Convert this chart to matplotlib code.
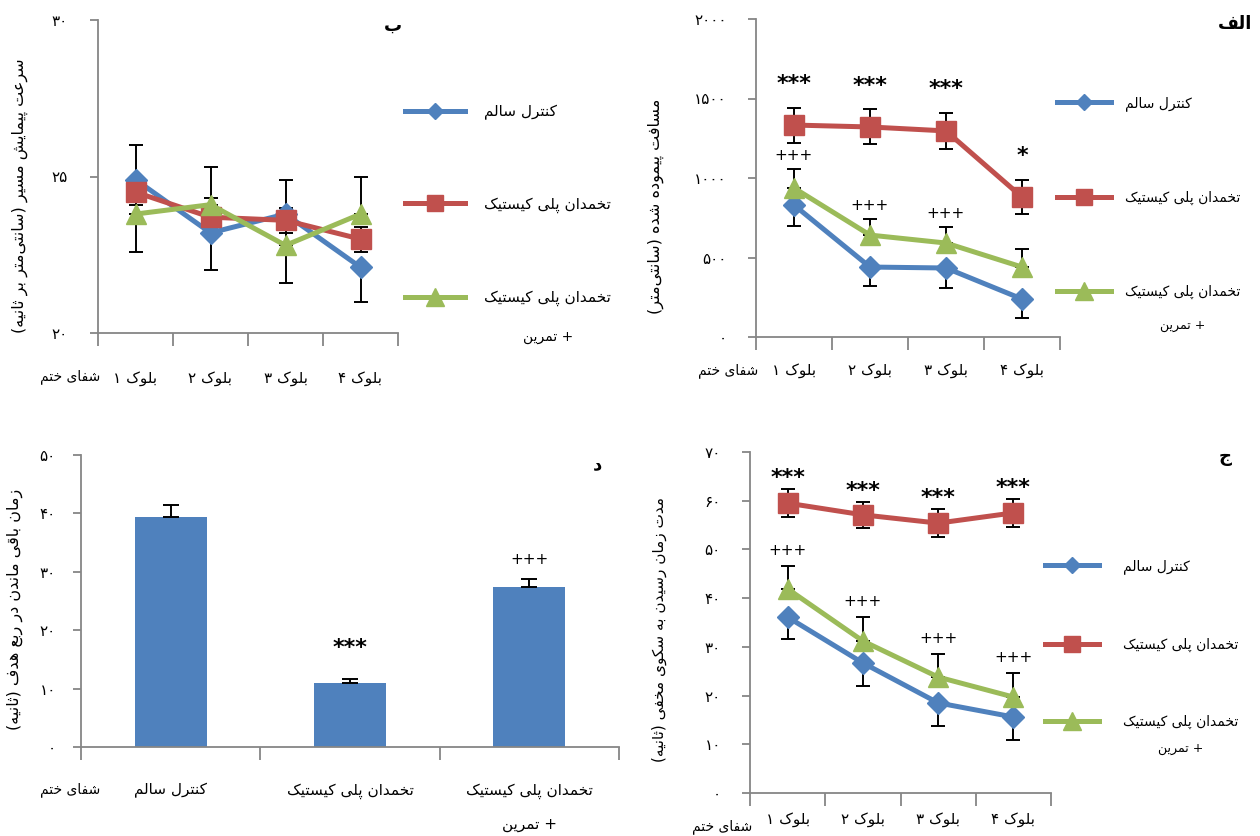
import matplotlib
matplotlib.use('Agg')
import matplotlib.pyplot as plt
from matplotlib.lines import Line2D

plt.rcParams['font.family'] = ['DejaVu Sans']

# --- data ---
group_names = ['کنترل سالم', 'تخمدان پلی کیستیک', 'تخمدان پلی کیستیک']
exercise_note = '+ تمرین'
block_labels = ['بلوک ۱', 'بلوک ۲', 'بلوک ۳', 'بلوک ۴']
blocks = [1, 2, 3, 4]

# panel ب : swim speed
speed_ylabel = 'سرعت پیمایش مسیر (سانتی\u200cمتر بر ثانیه)'
speed_ticks = [20, 25, 30]
speed_ctrl = [24.9, 23.2, 23.8, 22.1]
speed_ctrl_err = [2.3, 1.2, 2.2, 1.1]
speed_pcos = [24.5, 23.7, 23.6, 23.0]
speed_pcos_err = [0.4, 0.6, 0.4, 0.4]
speed_ex = [23.8, 24.1, 22.8, 23.8]
speed_ex_err = [2.2, 1.2, 2.1, 1.2]

# panel الف : distance travelled
dist_ylabel = 'مسافت پیموده شده (سانتی\u200cمتر)'
dist_ticks = [0, 500, 1000, 1500, 2000]
dist_ctrl = [830, 440, 434, 239]
dist_ctrl_err = [132, 119, 126, 120]
dist_pcos = [1333, 1321, 1296, 880]
dist_pcos_err = [110, 110, 113, 107]
dist_ex = [937, 641, 591, 440]
dist_ex_err = [119, 101, 101, 113]
dist_stars = ['***', '***', '***', '*']
dist_plus = ['+++', '+++', '+++', '']

# panel ج : escape latency
lat_ylabel = 'مدت زمان رسیدن به سکوی مخفی (ثانیه)'
lat_ticks = [0, 10, 20, 30, 40, 50, 60, 70]
lat_ctrl = [36.1, 26.7, 18.5, 15.6]
lat_ctrl_err = [4.5, 4.7, 4.7, 4.7]
lat_pcos = [59.5, 57.1, 55.4, 57.5]
lat_pcos_err = [2.9, 2.7, 2.9, 2.9]
lat_ex = [41.9, 31.2, 23.8, 19.7]
lat_ex_err = [4.7, 4.9, 4.7, 4.9]
lat_stars = ['***', '***', '***', '***']
lat_plus = ['+++', '+++', '+++', '+++']

# panel د : time in target quadrant
quad_ylabel = 'زمان باقی ماندن در ربع هدف (ثانیه)'
quad_ticks = [0, 10, 20, 30, 40, 50]
quad_time = [39.4, 11.0, 27.4]
quad_err = [2.0, 0.7, 1.4]
quad_marks = ['', '***', '+++']

watermark = 'شفای ختم'

BLUE = '#4F81BD'
RED = '#C0504D'
GREEN = '#9BBB59'
GRAY = '#868686'

# --- minimal persian shaping (matplotlib has no text shaping) ---
DUAL = {'ب': 0xFE8F, 'ت': 0xFE95, 'ث': 0xFE99, 'ج': 0xFE9D, 'ح': 0xFEA1,
        'خ': 0xFEA5, 'س': 0xFEB1, 'ش': 0xFEB5, 'ط': 0xFEC1, 'ع': 0xFEC9,
        'ف': 0xFED1, 'ق': 0xFED5, 'ل': 0xFEDD, 'م': 0xFEE1, 'ن': 0xFEE5,
        'ه': 0xFEE9, 'پ': 0xFB56, 'ک': 0xFB8E, 'ی': 0xFBFC}
RIGHT = {'ا': 0xFE8D, 'د': 0xFEA9, 'ذ': 0xFEAB, 'ر': 0xFEAD, 'ز': 0xFEAF, 'و': 0xFEED}


def shape_line(text):
    out = []
    for i, ch in enumerate(text):
        prev = text[i - 1] if i > 0 else ''
        nxt = text[i + 1] if i + 1 < len(text) else ''
        if ch in RIGHT:
            out.append(chr(RIGHT[ch] + (1 if prev in DUAL else 0)))
        elif ch in DUAL:
            jp = prev in DUAL
            jn = nxt in DUAL or nxt in RIGHT
            k = (3 if jn else 1) if jp else (2 if jn else 0)
            out.append(chr(DUAL[ch] + k))
        elif ch != '\u200c':
            out.append(ch)
    runs = []
    for ch in out:
        if ch.isdigit() and runs and runs[-1][0].isdigit():
            runs[-1] += ch
        else:
            runs.append(ch)
    mirror = {'(': ')', ')': '('}
    return ''.join(mirror.get(r, r) for r in reversed(runs))


def fa(text):
    return '\n'.join(shape_line(t) for t in text.split('\n'))


def fa_num(v):
    return str(v).translate(str.maketrans('0123456789', '۰۱۲۳۴۵۶۷۸۹'))


W, H = 1260, 836
fig = plt.figure(figsize=(W / 100, H / 100), dpi=100)


def axes_px(left, top, right, bottom):
    return fig.add_axes([left / W, 1 - bottom / H, (right - left) / W, (bottom - top) / H])


def style_axes(ax, xlabels, yticks, ypad, xpad):
    n = len(xlabels)
    for s in ['top', 'right']:
        ax.spines[s].set_visible(False)
    for s in ['left', 'bottom']:
        ax.spines[s].set_color(GRAY)
        ax.spines[s].set_linewidth(1.3)
    ax.set_xlim(0.5, n + 0.5)
    ax.set_ylim(yticks[0], yticks[-1])
    ax.set_yticks(yticks)
    ax.set_yticklabels([fa_num(t) for t in yticks])
    ax.set_xticks(range(1, n + 1))
    ax.set_xticklabels([fa(l) for l in xlabels])
    ax.set_xticks([i + 0.5 for i in range(n + 1)], minor=True)
    ax.tick_params(axis='x', which='major', length=0, pad=xpad, labelsize=11)
    ax.tick_params(axis='x', which='minor', length=9, width=1.3, color=GRAY)
    ax.tick_params(axis='y', length=6, width=1.3, color=GRAY, pad=ypad, labelsize=11)


def draw_series(ax, y, lo, hi, color, marker, ms):
    ax.errorbar(blocks, y, yerr=[lo, hi], fmt='none', ecolor='black',
                elinewidth=1.4, capsize=5, capthick=1.4, zorder=2)
    ax.plot(blocks, y, color=color, lw=3.6, marker=marker, ms=ms, zorder=3)


def add_legend(ax, x, y, spacing, size, textpad, note_gap):
    handles = [Line2D([], [], color=BLUE, lw=3.6, marker='D', ms=8),
               Line2D([], [], color=RED, lw=3.6, marker='s', ms=12),
               Line2D([], [], color=GREEN, lw=3.6, marker='^', ms=13)]
    leg = ax.legend(handles, [fa(g) for g in group_names], loc='upper left',
                    bbox_to_anchor=(x / W, 1 - y / H), bbox_transform=fig.transFigure,
                    frameon=False, fontsize=size, handlelength=3.9, handletextpad=textpad,
                    labelspacing=spacing, borderpad=0, borderaxespad=0)
    # drawn after the legend so the text position is already known
    ax.annotate(fa(exercise_note), xy=(0.5, 0), xycoords=leg.get_texts()[2],
                xytext=(0, -note_gap), textcoords='offset points', ha='center', va='top',
                fontsize=size - 1, zorder=10)


def zeros(n):
    return [0] * n


# ---------- panel ب ----------
ax = axes_px(98, 20, 398, 333)
style_axes(ax, block_labels, speed_ticks, 16, 27)
draw_series(ax, speed_ctrl, speed_ctrl_err, zeros(4), BLUE, 'D', 11)
draw_series(ax, speed_pcos, speed_pcos_err, speed_pcos_err, RED, 's', 15)
draw_series(ax, speed_ex, zeros(4), speed_ex_err, GREEN, '^', 15)
ax.set_ylabel(fa(speed_ylabel), fontsize=11.5, va='center')
ax.yaxis.set_label_coords(-0.26, 0.44)
add_legend(ax, 405, 104, 5.05, 11, 1.3, 17)

# ---------- panel الف ----------
ax = axes_px(756, 19, 1060, 337)
style_axes(ax, block_labels, dist_ticks, 15, 19)
draw_series(ax, dist_ctrl, dist_ctrl_err, zeros(4), BLUE, 'D', 11)
draw_series(ax, dist_pcos, dist_pcos_err, dist_pcos_err, RED, 's', 15)
draw_series(ax, dist_ex, zeros(4), dist_ex_err, GREEN, '^', 15)
for x, y, e, s in zip(blocks, dist_pcos, dist_pcos_err, dist_stars):
    ax.annotate(s, xy=(x, y + e), xytext=(0, 17), textcoords='offset points',
                ha='center', va='center', fontsize=16, fontweight='bold')
for x, y, e, s in zip(blocks, dist_ex, dist_ex_err, dist_plus):
    ax.annotate(s, xy=(x, y + e), xytext=(0, 10), textcoords='offset points',
                ha='center', va='center', fontsize=11)
ax.set_ylabel(fa(dist_ylabel), fontsize=11.5, va='center')
ax.yaxis.set_label_coords(-0.33, 0.41)
add_legend(ax, 1057, 96, 5.77, 10, 1.0, 14)

# ---------- panel د ----------
ax = axes_px(81, 455, 619, 747)
cats = [1, 2, 3]
quad_labels = group_names[:2] + [group_names[2] + '\n' + exercise_note]
style_axes(ax, quad_labels, quad_ticks, 12, 26)
ax.get_xticklabels()[2].set_linespacing(2.5)
ax.bar(cats, quad_time, width=0.4, color=BLUE, zorder=2)
ax.errorbar(cats, quad_time, yerr=[zeros(3), quad_err], fmt='none', ecolor='black',
            elinewidth=1.4, capsize=6, capthick=1.4, zorder=3)
for x, y, e, s in zip(cats, quad_time, quad_err, quad_marks):
    star = s == '***'
    ax.annotate(s, xy=(x, y + e), xytext=(0, 22 if star else 14),
                textcoords='offset points', ha='center', va='center',
                fontsize=16 if star else 11, fontweight='bold' if star else 'normal')
ax.set_ylabel(fa(quad_ylabel), fontsize=11.5, va='center')
ax.yaxis.set_label_coords(-0.123, 0.47)

# ---------- panel ج ----------
ax = axes_px(750, 452, 1051, 793)
style_axes(ax, block_labels, lat_ticks, 15, 14)
draw_series(ax, lat_ctrl, lat_ctrl_err, zeros(4), BLUE, 'D', 11)
draw_series(ax, lat_pcos, lat_pcos_err, lat_pcos_err, RED, 's', 15)
draw_series(ax, lat_ex, zeros(4), lat_ex_err, GREEN, '^', 15)
for x, y, e, s in zip(blocks, lat_pcos, lat_pcos_err, lat_stars):
    ax.annotate(s, xy=(x, y + e), xytext=(0, 8), textcoords='offset points',
                ha='center', va='center', fontsize=16, fontweight='bold')
for x, y, e, s in zip(blocks, lat_ex, lat_ex_err, lat_plus):
    ax.annotate(s, xy=(x, y + e), xytext=(0, 11), textcoords='offset points',
                ha='center', va='center', fontsize=11)
ax.set_ylabel(fa(lat_ylabel), fontsize=11, va='center')
ax.yaxis.set_label_coords(-0.30, 0.48)
add_legend(ax, 1045, 559, 4.58, 10, 1.7, 9)

# panel letters and journal mark
for letter, (px, py) in zip(['ب', 'الف', 'د', 'ج'],
                            [(393, 26), (1235, 24), (597, 464), (1225, 457)]):
    fig.text(px / W, 1 - py / H, fa(letter), fontsize=13, fontweight='bold',
             ha='center', va='center')
for px, py in [(70, 377), (728, 371), (70, 790), (722, 827)]:
    fig.text(px / W, 1 - py / H, fa(watermark), fontsize=10, ha='center', va='center')

fig.savefig('out.png', dpi=100)
